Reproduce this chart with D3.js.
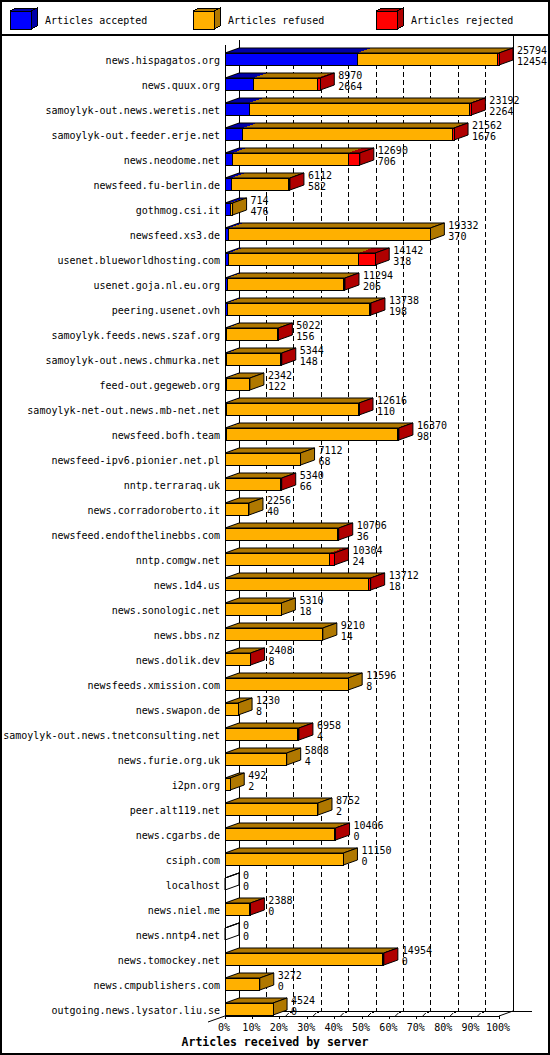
<!DOCTYPE html>
<html>
<head>
<meta charset="utf-8">
<script src="https://cdn.jsdelivr.net/npm/d3@7"></script>
<style>
  body { margin: 0; background: #fff; }
  text { font-family: "DejaVu Sans Mono", "Liberation Mono", monospace; font-size: 10px; fill: #000; }
</style>
</head>
<body>
<div id="chart"></div>
<script>
// servers, top to bottom
var servers = [
    "news.hispagatos.org", "news.quux.org", "samoylyk-out.news.weretis.net",
    "samoylyk-out.feeder.erje.net", "news.neodome.net", "newsfeed.fu-berlin.de",
    "gothmog.csi.it", "newsfeed.xs3.de", "usenet.blueworldhosting.com",
    "usenet.goja.nl.eu.org", "peering.usenet.ovh", "samoylyk.feeds.news.szaf.org",
    "samoylyk-out.news.chmurka.net", "feed-out.gegeweb.org", "samoylyk-net-out.news.mb-net.net",
    "newsfeed.bofh.team", "newsfeed-ipv6.pionier.net.pl", "nntp.terraraq.uk",
    "news.corradoroberto.it", "newsfeed.endofthelinebbs.com", "nntp.comgw.net",
    "news.1d4.us", "news.sonologic.net", "news.bbs.nz",
    "news.dolik.dev", "newsfeeds.xmission.com", "news.swapon.de",
    "samoylyk-out.news.tnetconsulting.net", "news.furie.org.uk", "i2pn.org",
    "peer.alt119.net", "news.cgarbs.de", "csiph.com",
    "localhost", "news.niel.me", "news.nntp4.net",
    "news.tomockey.net", "news.cmpublishers.com", "outgoing.news.lysator.liu.se"
];
var accepted = [12454, 2664, 2264, 1676, 706, 582, 476, 370, 318, 206, 198, 156, 148, 122, 110,
    98, 68, 66, 40, 36, 24, 18, 18, 14, 8, 8, 8, 4, 4, 2, 2, 0, 0, 0, 0, 0, 0, 0, 0];
var refused = [13240, 6006, 20728, 19726, 10884, 5380, 238, 18962, 12254, 10958, 13390, 4806, 5116, 2220, 12426,
    16122, 7044, 5184, 2216, 10570, 9830, 13494, 5292, 9196, 2350, 11588, 1222, 6834, 5804, 490,
    8750, 10286, 11150, 0, 2348, 0, 14804, 3272, 4524];
var rejected = [100, 300, 200, 160, 1100, 150, 0, 0, 1570, 130, 150, 60, 80, 0, 80,
    150, 0, 90, 0, 100, 450, 200, 0, 0, 50, 0, 0, 120, 0, 0,
    0, 120, 0, 0, 40, 0, 150, 0, 0];
var percentTicks = [0, 10, 20, 30, 40, 50, 60, 70, 80, 90, 100];
var legendLabels = ["Articles accepted", "Articles refused", "Articles rejected"];

var colors = ["#0000ff", "#ffb000", "#ff0000"];
var darks = ["#0000a8", "#b07800", "#b00000"];

var width = 550;
var height = 1055;
var dx = 14, dy = 5;       // depth of the 3d bars
var barH = 12;

var totals = servers.map(function (s, i) { return accepted[i] + refused[i] + rejected[i]; });

var svg = d3.select("#chart")
    .append("svg")
    .attr("width", width)
    .attr("height", height)
    .attr("shape-rendering", "crispEdges");

var x = d3.scaleLinear().domain([0, d3.max(totals)]).range([225, 499]);
var xPct = d3.scaleLinear().domain([0, 100]).range([225, 499]);
var y = d3.scaleBand().domain(servers).range([53, 53 + 25 * servers.length]);

var floorY = 1016;
var topY = 40;

// frame
svg.append("rect")
    .attr("x", 1).attr("y", 1)
    .attr("width", width - 2).attr("height", height - 2)
    .attr("fill", "#fff").attr("stroke", "#000").attr("stroke-width", 2);
svg.append("line")
    .attr("x1", 0).attr("x2", width).attr("y1", 35).attr("y2", 35)
    .attr("stroke", "#000").attr("stroke-width", 2);

// legend
var legend = svg.selectAll(".legend")
    .data(legendLabels)
    .enter().append("g")
    .attr("class", "legend")
    .attr("transform", function (d, i) { return "translate(" + (10 + i * 183) + ",0)"; });
legend.append("polygon")
    .attr("points", "0,11 21,11 27,8 6,8")
    .attr("fill", function (d, i) { return darks[i]; })
    .attr("stroke", "#000");
legend.append("polygon")
    .attr("points", "21,11 27,8 27,26 21,29")
    .attr("fill", function (d, i) { return darks[i]; })
    .attr("stroke", "#000");
legend.append("rect")
    .attr("x", 0).attr("y", 11).attr("width", 21).attr("height", 18)
    .attr("fill", function (d, i) { return colors[i]; })
    .attr("stroke", "#000");
legend.append("text")
    .attr("x", 35).attr("y", 24)
    .text(function (d) { return d; });

// back wall grid
svg.selectAll(".grid")
    .data(percentTicks.slice(1, -1))
    .enter().append("line")
    .attr("class", "grid")
    .attr("x1", function (d) { return xPct(d) + dx; })
    .attr("x2", function (d) { return xPct(d) + dx; })
    .attr("y1", topY + 8).attr("y2", floorY - dy)
    .attr("stroke", "#000")
    .attr("stroke-dasharray", "5,3");
svg.append("line")
    .attr("x1", xPct(0) + dx).attr("x2", xPct(0) + dx)
    .attr("y1", topY).attr("y2", floorY - dy)
    .attr("stroke", "#000");
svg.append("line")
    .attr("x1", xPct(100) + dx).attr("x2", xPct(100) + dx)
    .attr("y1", 35).attr("y2", floorY - dy)
    .attr("stroke", "#000");
svg.append("line")
    .attr("x1", xPct(0)).attr("x2", xPct(0))
    .attr("y1", topY + 5).attr("y2", floorY)
    .attr("stroke", "#000");

// floor
svg.append("line")
    .attr("x1", xPct(0) + dx).attr("x2", 532)
    .attr("y1", floorY - dy).attr("y2", floorY - dy)
    .attr("stroke", "#000");
svg.append("line")
    .attr("x1", xPct(0)).attr("x2", xPct(100))
    .attr("y1", floorY).attr("y2", floorY)
    .attr("stroke", "#000");
svg.append("line")
    .attr("x1", xPct(0) - 17).attr("y1", floorY + 6)
    .attr("x2", xPct(0) + dx).attr("y2", floorY - dy)
    .attr("stroke", "#000").attr("shape-rendering", "auto");
svg.append("line")
    .attr("x1", xPct(100)).attr("y1", floorY)
    .attr("x2", xPct(100) + dx).attr("y2", floorY - dy)
    .attr("stroke", "#000").attr("shape-rendering", "auto");
svg.selectAll(".tick")
    .data(percentTicks)
    .enter().append("line")
    .attr("class", "tick")
    .attr("x1", function (d) { return xPct(d); })
    .attr("x2", function (d) { return xPct(d); })
    .attr("y1", floorY).attr("y2", floorY + 3)
    .attr("stroke", "#000");
var slash = svg.selectAll(".slash")
    .data(percentTicks.slice(1, -1))
    .enter().append("g")
    .attr("class", "slash");
slash.append("line")
    .attr("x1", function (d) { return xPct(d) + 6; })
    .attr("y1", floorY)
    .attr("x2", function (d) { return xPct(d) + 9; })
    .attr("y2", floorY - 3)
    .attr("stroke", "#000").attr("shape-rendering", "auto");
slash.append("rect")
    .attr("x", function (d) { return xPct(d) + 10; })
    .attr("y", floorY - dy)
    .attr("width", 2).attr("height", 2)
    .attr("fill", "#000");

svg.selectAll(".pct")
    .data(percentTicks)
    .enter().append("text")
    .attr("class", "pct")
    .attr("x", function (d) { return xPct(d) - 1; })
    .attr("y", 1031)
    .attr("text-anchor", "middle")
    .text(function (d) { return d + "%"; });

svg.append("text")
    .attr("x", width / 2)
    .attr("y", 1046)
    .attr("text-anchor", "middle")
    .style("font-size", "11.5px")
    .style("font-weight", "bold")
    .text("Articles received by server");

// bars
var rows = servers.map(function (s, i) {
    var vals = [accepted[i], refused[i], rejected[i]];
    var segs = [], cum = 0, last = -1;
    vals.forEach(function (v, k) {
        if (v > 0) {
            segs.push({ x0: x(cum), x1: x(cum + v), k: k });
            last = k;
        }
        cum += v;
    });
    return { name: s, total: totals[i], acc: accepted[i], segs: segs, last: last, end: x(cum) };
});

var bar = svg.selectAll(".bar")
    .data(rows)
    .enter().append("g")
    .attr("class", "bar")
    .attr("transform", function (d) { return "translate(0," + y(d.name) + ")"; });

bar.each(function (d) {
    var g = d3.select(this);
    var xs = x(0), xe = d.end;
    d.segs.forEach(function (s) {
        g.append("polygon")
            .attr("points", [[s.x0, 0], [s.x1, 0], [s.x1 + dx, -dy], [s.x0 + dx, -dy]].join(" "))
            .attr("fill", darks[s.k]);
    });
    g.append("polygon")
        .attr("points", [[xs, 0], [xe, 0], [xe + dx, -dy], [xs + dx, -dy]].join(" "))
        .attr("fill", "none").attr("stroke", "#000").attr("shape-rendering", "auto");
    g.append("polygon")
        .attr("points", [[xe, 0], [xe + dx, -dy], [xe + dx, barH - dy], [xe, barH]].join(" "))
        .attr("fill", d.last >= 0 ? darks[d.last] : "none")
        .attr("stroke", "#000").attr("shape-rendering", "auto");
    d.segs.forEach(function (s) {
        g.append("rect")
            .attr("x", s.x0).attr("y", 0)
            .attr("width", s.x1 - s.x0).attr("height", barH)
            .attr("fill", colors[s.k])
            .attr("stroke", "#000");
    });
    g.append("text")
        .attr("x", xe + dx + 4).attr("y", 1)
        .text(d.total);
    g.append("text")
        .attr("x", xe + dx + 4).attr("y", 12)
        .text(d.acc);
});

bar.append("text")
    .attr("x", 220)
    .attr("y", 11)
    .attr("text-anchor", "end")
    .text(function (d) { return d.name; });
</script>
</body>
</html>
